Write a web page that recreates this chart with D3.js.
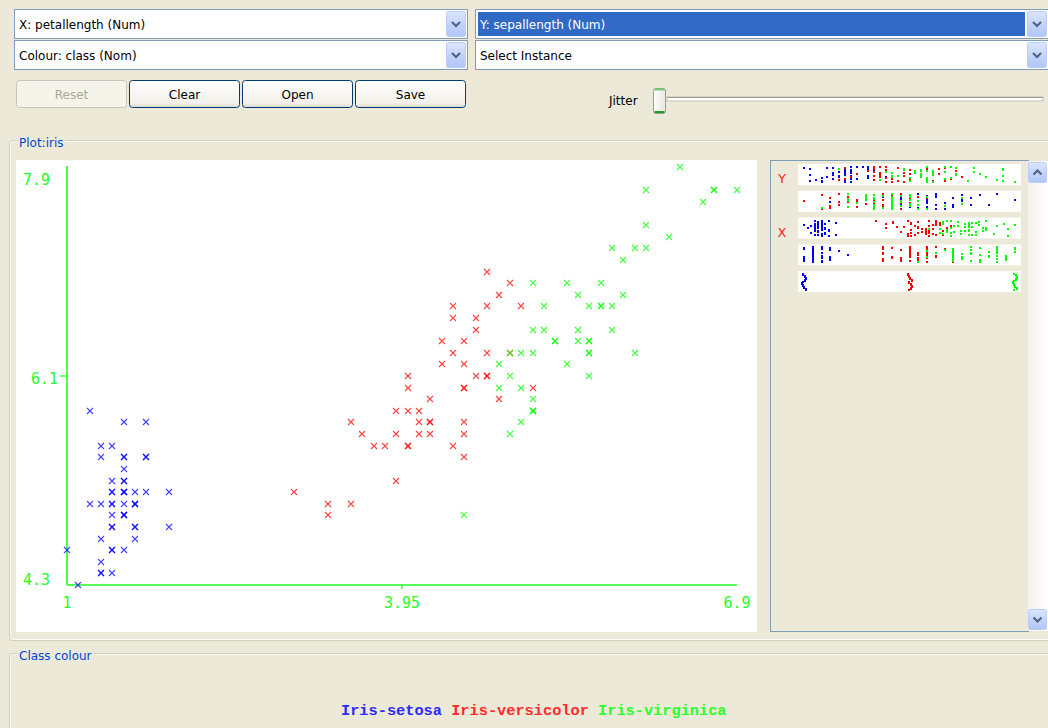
<!DOCTYPE html>
<html><head><meta charset="utf-8">
<script src="https://cdn.jsdelivr.net/npm/d3@7/dist/d3.min.js"></script>
<style>body{margin:0;background:#ECE9D8;overflow:hidden} svg{display:block}</style>
</head><body>
<svg id="c" width="1048" height="728"></svg>
<script>
// ---------------- DATA ----------------
const classNames = ["Iris-setosa", "Iris-versicolor", "Iris-virginica"];
const classCounts = [50, 50, 50];
const sepalLength = [
5.1,4.9,4.7,4.6,5.0,5.4,4.6,5.0,4.4,4.9,5.4,4.8,4.8,4.3,5.8,5.7,5.4,5.1,5.7,5.1,5.4,5.1,4.6,5.1,4.8,5.0,5.0,5.2,5.2,4.7,4.8,5.4,5.2,5.5,4.9,5.0,5.5,4.9,4.4,5.1,5.0,4.5,4.4,5.0,5.1,4.8,5.1,4.6,5.3,5.0,
7.0,6.4,6.9,5.5,6.5,5.7,6.3,4.9,6.6,5.2,5.0,5.9,6.0,6.1,5.6,6.7,5.6,5.8,6.2,5.6,5.9,6.1,6.3,6.1,6.4,6.6,6.8,6.7,6.0,5.7,5.5,5.5,5.8,6.0,5.4,6.0,6.7,6.3,5.6,5.5,5.5,6.1,5.8,5.0,5.6,5.7,5.7,6.2,5.1,5.7,
6.3,5.8,7.1,6.3,6.5,7.6,4.9,7.3,6.7,7.2,6.5,6.4,6.8,5.7,5.8,6.4,6.5,7.7,7.7,6.0,6.9,5.6,7.7,6.3,6.7,7.2,6.2,6.1,6.4,7.2,7.4,7.9,6.4,6.3,6.1,7.7,6.3,6.4,6.0,6.9,6.7,6.9,5.8,6.8,6.7,6.7,6.3,6.5,6.2,5.9];
const sepalWidth = [
3.5,3.0,3.2,3.1,3.6,3.9,3.4,3.4,2.9,3.1,3.7,3.4,3.0,3.0,4.0,4.4,3.9,3.5,3.8,3.8,3.4,3.7,3.6,3.3,3.4,3.0,3.4,3.5,3.4,3.2,3.1,3.4,4.1,4.2,3.1,3.2,3.5,3.1,3.0,3.4,3.5,2.3,3.2,3.5,3.8,3.0,3.8,3.2,3.7,3.3,
3.2,3.2,3.1,2.3,2.8,2.8,3.3,2.4,2.9,2.7,2.0,3.0,2.2,2.9,2.9,3.1,3.0,2.7,2.2,2.5,3.2,2.8,2.5,2.8,2.9,3.0,2.8,3.0,2.9,2.6,2.4,2.4,2.7,2.7,3.0,3.4,3.1,2.3,3.0,2.5,2.6,3.0,2.6,2.3,2.7,3.0,2.9,2.9,2.5,2.8,
3.3,2.7,3.0,2.9,3.0,3.0,2.5,2.9,2.5,3.6,3.2,2.7,3.0,2.5,2.8,3.2,3.0,3.8,2.6,2.2,3.2,2.8,2.8,2.7,3.3,3.2,2.8,3.0,2.8,3.0,2.8,3.8,2.8,2.8,2.6,3.0,3.4,3.1,3.0,3.1,3.1,3.1,2.7,3.2,3.3,3.0,2.5,3.0,3.4,3.0];
const petalLength = [
1.4,1.4,1.3,1.5,1.4,1.7,1.4,1.5,1.4,1.5,1.5,1.6,1.4,1.1,1.2,1.5,1.3,1.4,1.7,1.5,1.7,1.5,1.0,1.7,1.9,1.6,1.6,1.5,1.4,1.6,1.6,1.5,1.5,1.4,1.5,1.2,1.3,1.5,1.3,1.5,1.3,1.3,1.3,1.6,1.9,1.4,1.6,1.4,1.5,1.4,
4.7,4.5,4.9,4.0,4.6,4.5,4.7,3.3,4.6,3.9,3.5,4.2,4.0,4.7,3.6,4.4,4.5,4.1,4.5,3.9,4.8,4.0,4.9,4.7,4.3,4.4,4.8,5.0,4.5,3.5,3.8,3.7,3.9,5.1,4.5,4.5,4.7,4.4,4.1,4.0,4.4,4.6,4.0,3.3,4.2,4.2,4.2,4.3,3.0,4.1,
6.0,5.1,5.9,5.6,5.8,6.6,4.5,6.3,5.8,6.1,5.1,5.3,5.5,5.0,5.1,5.3,5.5,6.7,6.9,5.0,5.7,4.9,6.7,4.9,5.7,6.0,4.8,4.9,5.6,5.8,6.1,6.4,5.6,5.1,5.6,6.1,5.6,5.5,4.8,5.4,5.6,5.1,5.1,5.9,5.7,5.2,5.0,5.2,5.4,5.1];
const petalWidth = [
0.2,0.2,0.2,0.2,0.2,0.4,0.3,0.2,0.2,0.1,0.2,0.2,0.1,0.1,0.2,0.4,0.4,0.3,0.3,0.3,0.2,0.4,0.2,0.5,0.2,0.2,0.4,0.2,0.2,0.2,0.2,0.4,0.1,0.2,0.1,0.2,0.2,0.1,0.2,0.2,0.3,0.3,0.2,0.6,0.4,0.3,0.2,0.2,0.2,0.2,
1.4,1.5,1.5,1.3,1.5,1.3,1.6,1.0,1.3,1.4,1.0,1.5,1.0,1.4,1.3,1.4,1.5,1.0,1.5,1.1,1.8,1.3,1.5,1.2,1.3,1.4,1.4,1.7,1.5,1.0,1.1,1.0,1.2,1.6,1.5,1.6,1.5,1.3,1.3,1.3,1.2,1.4,1.2,1.0,1.3,1.2,1.3,1.3,1.1,1.3,
2.5,1.9,2.1,1.8,2.2,2.1,1.7,1.8,1.8,2.5,2.0,1.9,2.1,2.0,2.4,2.3,1.8,2.2,2.3,1.5,2.3,2.0,2.0,1.8,2.1,1.8,1.8,1.8,2.1,1.6,1.9,2.0,2.2,1.5,1.4,2.3,2.4,1.8,1.8,2.1,2.4,2.3,1.9,2.3,2.5,2.3,1.9,2.0,2.3,1.8];
const xTickValues = [1, 3.95, 6.9];
const yTickValues = [4.3, 6.1, 7.9];
const xTickLabels = ["1", "3.95", "6.9"];
const yTickLabels = ["4.3", "6.1", "7.9"];
const comboLabels = ["X: petallength (Num)", "Y: sepallength (Num)", "Colour: class (Nom)", "Select Instance"];
const buttonLabels = ["Reset", "Clear", "Open", "Save"];

// ---------------- STYLE ----------------
const COL = ["#0000ff", "#ff0000", "#00ff00"];
const LEG = ["#2a2aff", "#ff2a2a", "#2aff2a"];
const AXIS = "#22ff22";
const UI_FONT = "'DejaVu Sans', Verdana, sans-serif";
const MONO = "'DejaVu Sans Mono', monospace";

const classIdx = [];
classCounts.forEach((n, c) => { for (let k = 0; k < n; k++) classIdx.push(c); });

const svg = d3.select("#c");
const defs = svg.append("defs");
function grad(id, stops, vertical = true) {
  const g = defs.append("linearGradient").attr("id", id)
    .attr("x1", 0).attr("y1", 0).attr("x2", vertical ? 0 : 1).attr("y2", vertical ? 1 : 0);
  stops.forEach(([o, c]) => g.append("stop").attr("offset", o).attr("stop-color", c));
}
grad("ddbtn", [[0, "#dce7fe"], [0.5, "#c3d4fb"], [1, "#b1c6f6"]]);
grad("btn", [[0, "#ffffff"], [0.85, "#f1f0ea"], [1, "#d8d5c8"]]);
grad("track", [[0, "#f3f1ea"], [1, "#fefefe"]], false);
grad("thumb", [[0, "#ffffff"], [1, "#e6e5dd"]], false);

svg.append("rect").attr("width", 1048).attr("height", 728).attr("fill", "#ECE9D8");

// ---------- combo boxes ----------
function dropBtn(x, y, w, h, up) {
  const g = svg.append("g");
  g.append("rect").attr("x", x + 0.5).attr("y", y + 0.5).attr("width", w - 1).attr("height", h - 1)
    .attr("rx", 2).attr("fill", "url(#ddbtn)").attr("stroke", "#b9cdf8");
  const cx = x + w / 2, cy = y + h / 2;
  const d = up ? `M${cx - 4},${cy + 2} L${cx},${cy - 2} L${cx + 4},${cy + 2}`
               : `M${cx - 4},${cy - 2} L${cx},${cy + 2} L${cx + 4},${cy - 2}`;
  g.append("path").attr("d", d).attr("fill", "none").attr("stroke", "#4d6185").attr("stroke-width", 2);
}
function combo(x, y, w, h, label, selected) {
  svg.append("rect").attr("x", x + 0.5).attr("y", y + 0.5).attr("width", w - 1).attr("height", h - 1)
    .attr("fill", "#fff").attr("stroke", "#7f9db9");
  if (selected) {
    svg.append("rect").attr("x", x + 3).attr("y", y + 3).attr("width", w - 27).attr("height", h - 6).attr("fill", "#316ac5");
  }
  svg.append("text").attr("x", x + 5).attr("y", y + h / 2 + 4.5).attr("font-family", UI_FONT).attr("font-size", 12)
    .attr("fill", selected ? "#fff" : "#000").text(label);
  dropBtn(x + w - 22, y + 2, 20, h - 4);
}
combo(14, 9, 454, 30, comboLabels[0], false);
combo(475, 9, 574, 30, comboLabels[1], true);
combo(14, 40, 454, 30, comboLabels[2], false);
combo(475, 40, 574, 30, comboLabels[3], false);

// ---------- buttons ----------
const btnX = [16, 129, 242, 355];
buttonLabels.forEach((lab, i) => {
  const dis = i === 0;
  svg.append("rect").attr("x", btnX[i] + 0.5).attr("y", 80.5).attr("width", 110).attr("height", 27).attr("rx", 3)
    .attr("fill", dis ? "#f5f4ea" : "url(#btn)").attr("stroke", dis ? "#c9c7ba" : "#003c74");
  svg.append("text").attr("x", btnX[i] + 55.5).attr("y", 98.5).attr("text-anchor", "middle")
    .attr("font-family", UI_FONT).attr("font-size", 12).attr("fill", dis ? "#aca899" : "#000").text(lab);
});

// ---------- jitter slider ----------
svg.append("text").attr("x", 609).attr("y", 105).attr("font-family", UI_FONT).attr("font-size", 12).text("Jitter");
svg.append("rect").attr("x", 667).attr("y", 97).attr("width", 376).attr("height", 4).attr("fill", "#fff").attr("stroke", "#b8b6ac").attr("stroke-width", 0.8);
svg.append("line").attr("x1", 667).attr("x2", 1043).attr("y1", 97.5).attr("y2", 97.5).attr("stroke", "#9d9c99");
svg.append("rect").attr("x", 653.5).attr("y", 88.5).attr("width", 12).attr("height", 25).attr("rx", 2.5)
  .attr("fill", "url(#thumb)").attr("stroke", "#9c9b94");
svg.append("rect").attr("x", 654.5).attr("y", 88.5).attr("width", 10).attr("height", 2).attr("fill", "#6ed26e");
svg.append("rect").attr("x", 654.5).attr("y", 111).attr("width", 10).attr("height", 2).attr("fill", "#21a121");

// ---------- titled borders ----------
function titled(y, y2, label) {
  svg.append("rect").attr("x", 9.5).attr("y", y + 0.5).attr("width", 1060).attr("height", y2 - y).attr("rx", 3)
    .attr("fill", "none").attr("stroke", "#d0d0bf");
  svg.append("rect").attr("x", 10.5).attr("y", y + 1.5).attr("width", 1060).attr("height", y2 - y - 2).attr("rx", 3)
    .attr("fill", "none").attr("stroke", "#ffffff").attr("stroke-opacity", 0.7);
  const t = svg.append("text").attr("x", 19).attr("y", y + 7).attr("font-family", UI_FONT).attr("font-size", 12)
    .attr("fill", "#0046d5").text(label);
  const bb = t.node().getBBox();
  svg.insert("rect", () => t.node()).attr("x", bb.x - 2).attr("y", y - 2).attr("width", bb.width + 4).attr("height", 6).attr("fill", "#ECE9D8");
}
titled(140, 640, "Plot:iris");
titled(653, 760, "Class colour");

// ---------- main plot ----------
svg.append("rect").attr("x", 16).attr("y", 160).attr("width", 741).attr("height", 472).attr("fill", "#fff");

const x = d3.scaleLinear().domain([xTickValues[0], xTickValues[2]]).range([67, 737]);
const y = d3.scaleLinear().domain([yTickValues[0], yTickValues[2]]).range([585, 167]);

const axisG = svg.append("g");
axisG.append("line").attr("x1", x(xTickValues[0])).attr("x2", x(xTickValues[0])).attr("y1", y(yTickValues[2]) - 1).attr("y2", y(yTickValues[0]))
  .attr("stroke", AXIS).attr("stroke-width", 1.6);
axisG.append("line").attr("x1", x(xTickValues[0])).attr("x2", x(xTickValues[2])).attr("y1", y(yTickValues[0])).attr("y2", y(yTickValues[0]))
  .attr("stroke", AXIS).attr("stroke-width", 1.6);
axisG.append("line").attr("x1", x(xTickValues[1])).attr("x2", x(xTickValues[1])).attr("y1", y(yTickValues[0])).attr("y2", y(yTickValues[0]) + 4)
  .attr("stroke", AXIS).attr("stroke-width", 1.3);
axisG.append("line").attr("x1", x(xTickValues[0]) - 7).attr("x2", x(xTickValues[0])).attr("y1", y(yTickValues[1])).attr("y2", y(yTickValues[1]))
  .attr("stroke", AXIS).attr("stroke-width", 1.3);

const txt = (tx, ty, s, anchor) => axisG.append("text").attr("x", tx).attr("y", ty).attr("text-anchor", anchor)
  .attr("font-family", MONO).attr("font-size", 15).attr("fill", AXIS).text(s);
xTickValues.forEach((v, i) => txt(x(v), 608, xTickLabels[i], "middle"));
txt(50, y(yTickValues[2]) + 18, yTickLabels[2], "end");
txt(58, y(yTickValues[1]) + 8, yTickLabels[1], "end");
txt(50, y(yTickValues[0]), yTickLabels[0], "end");

const idx = d3.range(sepalLength.length);
svg.append("g").selectAll("path").data(idx).join("path")
  .attr("d", i => {
    const px = Math.round(x(petalLength[i])), py = Math.round(y(sepalLength[i]));
    return `M${px - 3},${py - 3}L${px + 3},${py + 3}M${px - 3},${py + 3}L${px + 3},${py - 3}`;
  })
  .attr("fill", "none").attr("stroke", i => COL[classIdx[i]]).attr("stroke-width", 1.1).attr("stroke-opacity", 0.75);

// ---------- attribute strips panel ----------
svg.append("rect").attr("x", 770.5).attr("y", 160.5).attr("width", 258).attr("height", 471).attr("fill", "#ECE9D8").attr("stroke", "#7f9db9");
svg.append("rect").attr("x", 1028).attr("y", 161).attr("width", 20).attr("height", 470).attr("fill", "url(#track)");
dropBtn(1028, 162, 19, 21, true);
dropBtn(1028, 609, 19, 21, false);

const strips = [sepalLength, sepalWidth, petalLength, petalWidth, classIdx];
const stripLabel = ["Y", "", "X", "", ""];
// fixed (non-data) vertical placement pattern for the 1-D strips
const jitY = i => (i * 37) % 17;
const jitX = i => [0, 2, 3, 2, 0, -1, 0, 1, 3, 1][Math.floor(((i * 37) % 17) / 1.8)] - 1;
strips.forEach((arr, k) => {
  const top = 164 + k * 26.8;
  svg.append("rect").attr("x", 798).attr("y", top).attr("width", 223).attr("height", 21).attr("fill", "#fff");
  if (stripLabel[k]) {
    svg.append("text").attr("x", 782).attr("y", top + 19).attr("text-anchor", "middle").attr("font-family", UI_FONT)
      .attr("font-size", 13).attr("fill", "#ff2020").text(stripLabel[k]);
  }
  const sx = d3.scaleLinear().domain(d3.extent(arr)).range([803, 1014]);
  const nominal = k === 4;
  svg.append("g").selectAll("rect").data(idx).join("rect")
    .attr("x", i => Math.round(sx(arr[i]) + (nominal ? jitX(i + arr[i] * 3) : 0)))
    .attr("y", i => Math.round(top + 2 + (nominal ? jitY(i) : (i * 37 + k * 11) % 16)))
    .attr("width", 2).attr("height", 2)
    .attr("fill", i => COL[classIdx[i]]);
});

// ---------- class colour legend ----------
const leg = svg.append("text").attr("x", 341).attr("y", 715).attr("font-family", "'Liberation Mono', 'Courier New', monospace")
  .attr("font-size", 15.3).attr("font-weight", "bold").attr("xml:space", "preserve").style("white-space", "pre");
classNames.forEach((n, i) => leg.append("tspan").attr("fill", LEG[i]).text((i ? " " : "") + n));
</script>
</body></html>
